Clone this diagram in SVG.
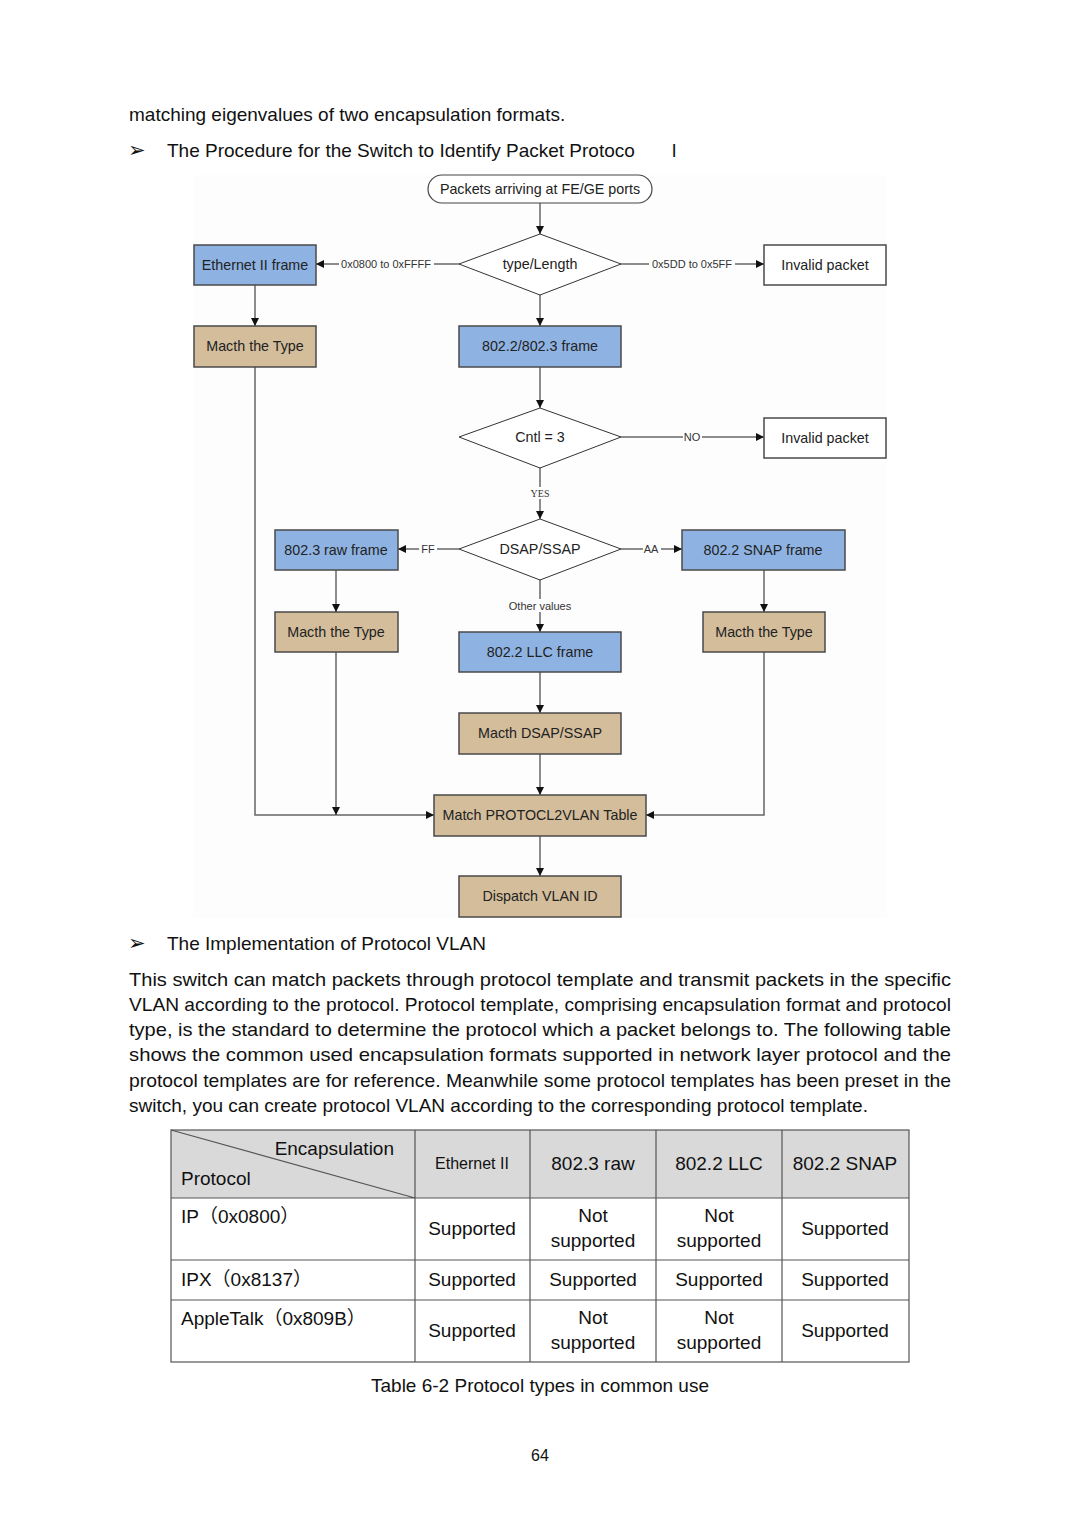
<svg xmlns="http://www.w3.org/2000/svg" width="1080" height="1527" viewBox="0 0 1080 1527">
<style>
.body{font-family:"Liberation Sans","Noto Sans CJK SC",sans-serif;fill:#111;font-size:19px}
.bul{font-family:"DejaVu Sans",sans-serif;font-size:21px;fill:#111}
.nt{font-family:"Liberation Sans",Arial,sans-serif;font-size:14.3px;fill:#222;text-anchor:middle;dominant-baseline:central}
.lb{font-family:"Liberation Sans",Arial,sans-serif;font-size:11px;fill:#333;text-anchor:middle;dominant-baseline:central}
.blue{fill:#8eb3e2;stroke:#4a4a4a;stroke-width:1.5}
.tan{fill:#d3bd9b;stroke:#4a4a4a;stroke-width:1.5}
.white{fill:#fff;stroke:#4a4a4a;stroke-width:1.5}
.dia{fill:#fff;stroke:#333;stroke-width:1}
.con{fill:none;stroke:#666;stroke-width:1.5;marker-end:url(#ah)}
.lbg{fill:#fdfdfd}
.tc{font-family:"Liberation Sans","Noto Sans CJK SC",sans-serif;font-size:19px;fill:#111;text-anchor:middle}
.tl{font-family:"Liberation Sans","Noto Sans CJK SC",sans-serif;font-size:19px;fill:#111}
.grid{stroke:#555;stroke-width:1.2;fill:none}
</style>
<defs>
<marker id="ah" viewBox="0 0 8 8" refX="8" refY="4" markerWidth="8" markerHeight="8" markerUnits="userSpaceOnUse" orient="auto">
<path d="M0,0 L8,4 L0,8 z" fill="#111"/>
</marker>
</defs>
<rect width="1080" height="1527" fill="#fff"/>

<!-- page text -->
<text class="body" x="129" y="121">matching eigenvalues of two encapsulation formats.</text>
<text class="bul" x="128" y="157">➢</text>
<text class="body" x="167" y="157">The Procedure for the Switch to Identify Packet Protoco</text>
<text class="body" x="672" y="157">l</text>

<!-- flowchart background -->
<rect x="193" y="175" width="694" height="743" fill="#fdfdfd"/>

<g id="connectors">
<path class="con" d="M540,203 V234"/>
<path class="con" d="M459,264 H316"/>
<path class="con" d="M621,264 H764"/>
<path class="con" d="M255,285 V326"/>
<path class="con" d="M540,295 V326"/>
<path class="con" d="M540,367 V408"/>
<path class="con" d="M621,437 H764"/>
<path class="con" d="M540,468 V519"/>
<path class="con" d="M459,549 H398"/>
<path class="con" d="M621,549 H682"/>
<path class="con" d="M540,580 V632"/>
<path class="con" d="M336,570 V612"/>
<path class="con" d="M764,570 V612"/>
<path class="con" d="M540,672 V713"/>
<path class="con" d="M540,754 V795"/>
<path class="con" d="M255,367 V815 H434"/>
<path class="con" d="M336,652 V815"/>
<path class="con" d="M764,652 V815 H646"/>
<path class="con" d="M540,836 V876"/>
<rect class="lbg" x="339" y="258" width="95" height="12"/>
<text class="lb" x="386" y="264">0x0800 to 0xFFFF</text>
<rect class="lbg" x="649" y="258" width="86" height="12"/>
<text class="lb" x="692" y="264">0x5DD to 0x5FF</text>
<rect class="lbg" x="683" y="431" width="19" height="12"/>
<text class="lb" x="692" y="437">NO</text>
<rect class="lbg" x="527" y="487" width="26" height="12"/>
<text x="540" y="493" style="font-family:'Liberation Serif',serif;font-size:10px;fill:#333;text-anchor:middle;dominant-baseline:central">YES</text>
<rect class="lbg" x="419" y="543" width="18" height="12"/>
<text class="lb" x="428" y="549">FF</text>
<rect class="lbg" x="643" y="543" width="18" height="12"/>
<text class="lb" x="651" y="549">AA</text>
<rect class="lbg" x="505" y="599" width="70" height="13"/>
<text class="lb" x="540" y="606">Other values</text>
</g>

<g id="start">
<rect x="428" y="175" width="224" height="28" rx="14" ry="14" fill="#fff" stroke="#444" stroke-width="1.2"/>
<text class="nt" x="540" y="189">Packets arriving at FE/GE ports</text>
</g>
<g id="typeLength">
<polygon class="dia" points="540,234 621,264 540,295 459,264"/>
<text class="nt" x="540" y="264">type/Length</text>
</g>
<g id="ethernet2">
<rect class="blue" x="194" y="245" width="122" height="40"/>
<text class="nt" x="255" y="265">Ethernet II frame</text>
</g>
<g id="invalid1">
<rect class="white" x="764" y="245" width="122" height="40"/>
<text class="nt" x="825" y="265">Invalid packet</text>
</g>
<g id="macth1">
<rect class="tan" x="194" y="326" width="122" height="41"/>
<text class="nt" x="255" y="346">Macth the Type</text>
</g>
<g id="frame8022_8023">
<rect class="blue" x="459" y="326" width="162" height="41"/>
<text class="nt" x="540" y="346">802.2/802.3 frame</text>
</g>
<g id="cntl">
<polygon class="dia" points="540,408 621,437 540,468 459,437"/>
<text class="nt" x="540" y="437">Cntl = 3</text>
</g>
<g id="invalid2">
<rect class="white" x="764" y="418" width="122" height="40"/>
<text class="nt" x="825" y="438">Invalid packet</text>
</g>
<g id="dsap">
<polygon class="dia" points="540,519 621,549 540,580 459,549"/>
<text class="nt" x="540" y="549">DSAP/SSAP</text>
</g>
<g id="raw">
<rect class="blue" x="275" y="530" width="123" height="40"/>
<text class="nt" x="336" y="550">802.3 raw frame</text>
</g>
<g id="snap">
<rect class="blue" x="682" y="530" width="163" height="40"/>
<text class="nt" x="763" y="550">802.2 SNAP frame</text>
</g>
<g id="macth2">
<rect class="tan" x="275" y="612" width="123" height="40"/>
<text class="nt" x="336" y="632">Macth the Type</text>
</g>
<g id="llc">
<rect class="blue" x="459" y="632" width="162" height="40"/>
<text class="nt" x="540" y="652">802.2 LLC frame</text>
</g>
<g id="macth3">
<rect class="tan" x="703" y="612" width="122" height="40"/>
<text class="nt" x="764" y="632">Macth the Type</text>
</g>
<g id="macthDsap">
<rect class="tan" x="459" y="713" width="162" height="41"/>
<text class="nt" x="540" y="733">Macth DSAP/SSAP</text>
</g>
<g id="matchTable">
<rect class="tan" x="434" y="795" width="212" height="41"/>
<text class="nt" x="540" y="815">Match PROTOCL2VLAN Table</text>
</g>
<g id="dispatch">
<rect class="tan" x="459" y="876" width="162" height="41"/>
<text class="nt" x="540" y="896">Dispatch VLAN ID</text>
</g>

<!-- second section -->
<text class="bul" x="128" y="950">➢</text>
<text class="body" x="167" y="950">The Implementation of Protocol VLAN</text>
<text class="body" x="129" y="986" textLength="822" lengthAdjust="spacingAndGlyphs">This switch can match packets through protocol template and transmit packets in the specific</text>
<text class="body" x="129" y="1011" textLength="822" lengthAdjust="spacingAndGlyphs">VLAN according to the protocol. Protocol template, comprising encapsulation format and protocol</text>
<text class="body" x="129" y="1036" textLength="822" lengthAdjust="spacingAndGlyphs">type, is the standard to determine the protocol which a packet belongs to. The following table</text>
<text class="body" x="129" y="1061" textLength="822" lengthAdjust="spacingAndGlyphs">shows the common used encapsulation formats supported in network layer protocol and the</text>
<text class="body" x="129" y="1087" textLength="822" lengthAdjust="spacingAndGlyphs">protocol templates are for reference. Meanwhile some protocol templates has been preset in the</text>
<text class="body" x="129" y="1112" textLength="739" lengthAdjust="spacingAndGlyphs">switch, you can create protocol VLAN according to the corresponding protocol template.</text>

<!-- table -->
<g id="table">
<rect x="171" y="1130" width="738" height="68" fill="#d9d9d9"/>
<rect class="grid" x="171" y="1130" width="738" height="232"/>
<path class="grid" d="M415,1130 V1362 M530,1130 V1362 M656,1130 V1362 M782,1130 V1362 M171,1198 H909 M171,1260 H909 M171,1300 H909 M171,1130 L415,1198"/>
<text class="tl" x="394" y="1155" text-anchor="end">Encapsulation</text>
<text class="tl" x="181" y="1185">Protocol</text>
<text class="tc" x="472" y="1169" style="font-size:16px">Ethernet II</text>
<text class="tc" x="593" y="1170">802.3 raw</text>
<text class="tc" x="719" y="1170">802.2 LLC</text>
<text class="tc" x="845" y="1170">802.2 SNAP</text>

<text class="tl" x="181" y="1223">IP（0x0800）</text>
<text class="tc" x="472" y="1235">Supported</text>
<text class="tc" x="593" y="1222">Not</text>
<text class="tc" x="593" y="1247">supported</text>
<text class="tc" x="719" y="1222">Not</text>
<text class="tc" x="719" y="1247">supported</text>
<text class="tc" x="845" y="1235">Supported</text>

<text class="tl" x="181" y="1286">IPX（0x8137）</text>
<text class="tc" x="472" y="1286">Supported</text>
<text class="tc" x="593" y="1286">Supported</text>
<text class="tc" x="719" y="1286">Supported</text>
<text class="tc" x="845" y="1286">Supported</text>

<text class="tl" x="181" y="1325">AppleTalk（0x809B）</text>
<text class="tc" x="472" y="1337">Supported</text>
<text class="tc" x="593" y="1324">Not</text>
<text class="tc" x="593" y="1349">supported</text>
<text class="tc" x="719" y="1324">Not</text>
<text class="tc" x="719" y="1349">supported</text>
<text class="tc" x="845" y="1337">Supported</text>
</g>

<text class="body" x="540" y="1392" text-anchor="middle">Table 6-2 Protocol types in common use</text>
<text class="body" x="540" y="1461" text-anchor="middle" style="font-size:16px">64</text>
</svg>
